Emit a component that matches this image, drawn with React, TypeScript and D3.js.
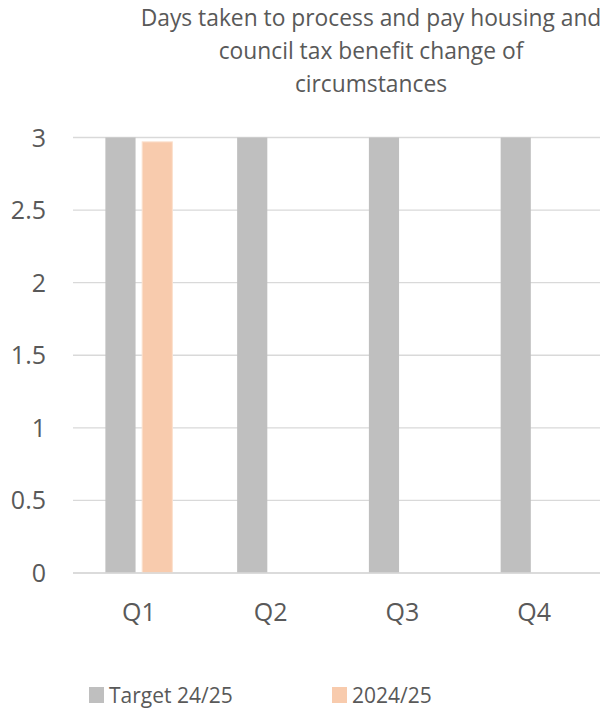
import React from "react";
import * as d3 from "d3";

const categories = ["Q1", "Q2", "Q3", "Q4"];
const seriesNames = ["Target 24/25", "2024/25"];
const targetValues = [3, 3, 3, 3];
const actualValues: (number | null)[] = [2.97, null, null, null];
const yTicks = [0, 0.5, 1, 1.5, 2, 2.5, 3];
const titleLines = [
  "Days taken to process and pay housing and",
  "council tax benefit change of",
  "circumstances",
];
const colors = ["#BFBFBF", "#F8CBAD"];

export default function App() {
  const W = 608, H = 708;
  const left = 73, right = 600, top = 137.5, bottom = 573;
  const font = "'Open Sans', sans-serif";
  const x0 = d3.scaleBand<string>().domain(categories).range([left, right]).paddingInner(0).paddingOuter(0);
  const x1 = d3.scaleBand<string>().domain(seriesNames).range([0, x0.bandwidth()]).paddingInner(0.18).paddingOuter(0.88);
  const y = d3.scaleLinear().domain([0, 3]).range([bottom, top]);
  const series = [targetValues, actualValues];
  const textColor = "#595959";
  return (
    <svg width={W} height={H} style={{ position: "absolute", left: 0, top: 0, background: "#fff" }}>
      <rect width={W} height={H} fill="#fff" />
      {titleLines.map((t, i) => (
        <text key={i} x={371} y={26 + i * 33} textAnchor="middle" fontFamily={font} fontSize={22.8} fill={textColor}>{t}</text>
      ))}
      {yTicks.map((t) => (
        <g key={t}>
          <line x1={left} x2={right} y1={y(t)} y2={y(t)} stroke="#D9D9D9" strokeWidth={1.3} />
          <text x={46} y={y(t)} dy="0.36em" textAnchor="end" fontFamily={font} fontSize={25} fill={textColor}>{d3.format("")(t)}</text>
        </g>
      ))}
      {categories.map((c, ci) => (
        <g key={c} transform={`translate(${x0(c)},0)`}>
          {series.map((vals, si) => {
            const v = vals[ci];
            if (v == null) return null;
            return (
              <rect key={si} x={x1(seriesNames[si])} y={y(v)} width={x1.bandwidth()} height={y(0) - y(v)}
                fill={colors[si]} stroke={si === 1 ? "#FBE0CE" : "none"} strokeWidth={1} />
            );
          })}
          <text x={x0.bandwidth() / 2} y={612} dy="0.36em" textAnchor="middle" fontFamily={font} fontSize={25} fill={textColor}>{c}</text>
        </g>
      ))}
      <line x1={left} x2={right} y1={bottom} y2={bottom} stroke="#D9D9D9" strokeWidth={1.3} />
      {seriesNames.map((s, i) => (
        <g key={s} transform={`translate(${[89, 332][i]},0)`}>
          <rect x={0} y={687} width={15} height={16} fill={colors[i]} />
          <text x={20} y={703} fontFamily={font} fontSize={21} fill={textColor}>{s}</text>
        </g>
      ))}
    </svg>
  );
}
